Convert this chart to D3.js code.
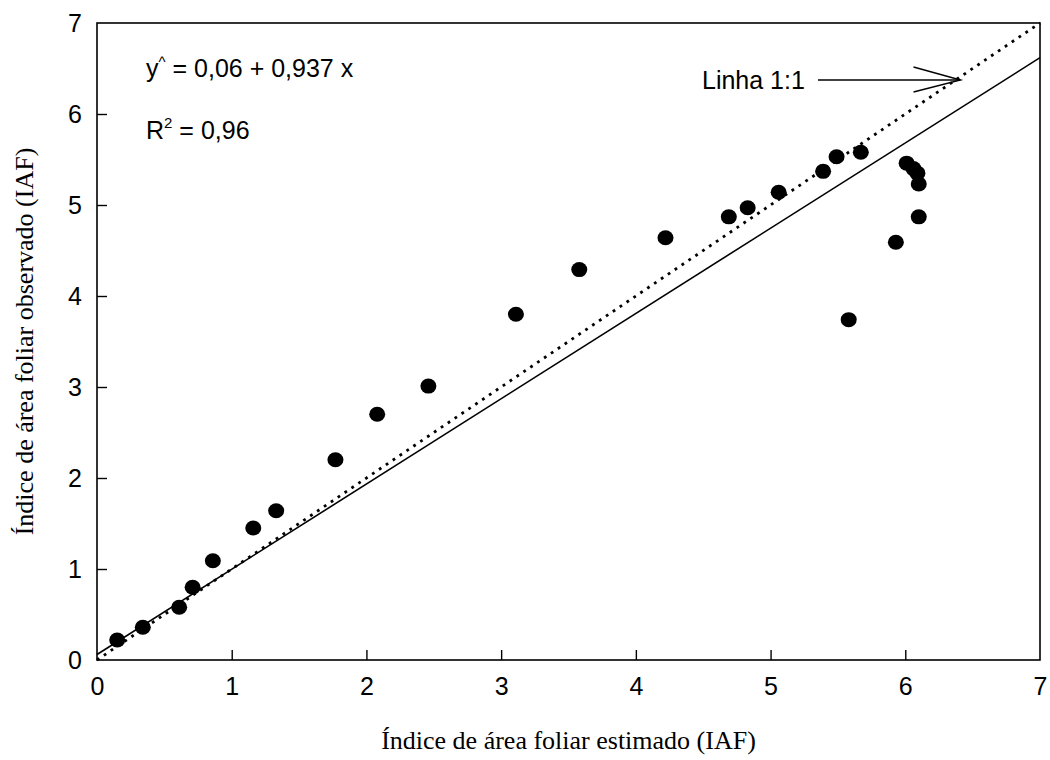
<!DOCTYPE html>
<html>
<head>
<meta charset="utf-8">
<script src="https://cdn.jsdelivr.net/npm/d3@7"></script>
<style>
body { margin: 0; background: #fff; }
</style>
</head>
<body>
<svg id="chart" width="1050" height="760"></svg>
<script>
var width = 1050, height = 760;
var margin = ({top: 23, right: 10, bottom: 100, left: 97});

// estimado (x) vs observado (y)
var estimado = [0.15, 0.34, 0.61, 0.71, 0.86, 1.16, 1.33, 1.77, 2.08, 2.46,
  3.11, 3.58, 4.22, 4.69, 4.83, 5.06, 5.39, 5.49, 5.67, 6.01, 6.06, 6.09,
  6.10, 6.10, 5.93, 5.58];
var observado = [0.22, 0.36, 0.58, 0.80, 1.09, 1.45, 1.64, 2.20, 2.70, 3.01,
  3.80, 4.29, 4.64, 4.87, 4.97, 5.14, 5.37, 5.53, 5.58, 5.46, 5.40, 5.35,
  5.23, 4.87, 4.59, 3.74];
var tickValues = [0, 1, 2, 3, 4, 5, 6, 7];
var intercept = 0.06, slope = 0.937;

var data = estimado.map((d, i) => ({x: d, y: observado[i]}));

var x = d3.scaleLinear().domain([0, 7]).range([margin.left, 1040]);
var y = d3.scaleLinear().domain([0, 7]).range([660, margin.top]);

const svg = d3.select("#chart");
var font = "'Liberation Sans', Arial, sans-serif";
var serif = "'Liberation Serif', 'Times New Roman', serif";

// frame
svg.append("rect")
  .attr("x", x(0)).attr("y", y(7))
  .attr("width", x(7) - x(0)).attr("height", y(0) - y(7))
  .attr("fill", "none").attr("stroke", "#000").attr("stroke-width", 1.6);

// axes with inward ticks
svg.append("g")
  .attr("transform", `translate(0,${y(0)})`)
  .call(d3.axisBottom(x).tickValues(tickValues).tickFormat(d3.format("d"))
    .tickSize(-10).tickPadding(17).tickSizeOuter(0))
  .call(g => g.select(".domain").remove())
  .call(g => g.selectAll(".tick line").attr("stroke-width", 1.4)
    .filter(d => d == 0 || d == 7).remove())
  .call(g => g.selectAll(".tick text").attr("font-family", font).attr("font-size", 25).attr("fill", "#000"));

svg.append("g")
  .attr("transform", `translate(${x(0)},0)`)
  .call(d3.axisLeft(y).tickValues(tickValues).tickFormat(d3.format("d"))
    .tickSize(-10).tickPadding(15).tickSizeOuter(0))
  .call(g => g.select(".domain").remove())
  .call(g => g.selectAll(".tick line").attr("stroke-width", 1.4)
    .filter(d => d == 0 || d == 7).remove())
  .call(g => g.selectAll(".tick text").attr("font-family", font).attr("font-size", 25).attr("fill", "#000"));

// 1:1 line (dotted)
svg.append("line")
  .attr("x1", x(0)).attr("y1", y(0))
  .attr("x2", x(7)).attr("y2", y(7))
  .attr("stroke", "#000").attr("stroke-width", 2.8)
  .attr("stroke-dasharray", "2.8,5.5");

// regression line
var line = d3.line().x(d => x(d)).y(d => y(intercept + slope * d));
svg.append("path")
  .datum([0, 7])
  .attr("d", line)
  .attr("fill", "none").attr("stroke", "#000").attr("stroke-width", 1.6);

// points
svg.append("g")
  .selectAll("ellipse")
  .data(data)
  .join("ellipse")
  .attr("cx", d => x(d.x))
  .attr("cy", d => y(d.y))
  .attr("rx", 8).attr("ry", 7.5)
  .attr("fill", "#000");

// annotation: Linha 1:1 with arrow
var tip = [x(6.41), y(6.41)];
svg.append("text")
  .attr("x", 702).attr("y", 89)
  .attr("font-family", font).attr("font-size", 25)
  .text("Linha 1:1");
svg.append("line")
  .attr("x1", 818).attr("y1", 80).attr("x2", tip[0]).attr("y2", 80)
  .attr("stroke", "#000").attr("stroke-width", 1.4);
svg.append("path")
  .attr("d", `M${tip[0] - 47},67 L${tip[0]},80 L${tip[0] - 47},92`)
  .attr("fill", "none").attr("stroke", "#000").attr("stroke-width", 1.4);

// equation
var eq = svg.append("text")
  .attr("x", 146).attr("y", 77)
  .attr("font-family", font).attr("font-size", 25);
eq.append("tspan").text("y");
eq.append("tspan").attr("dy", -10).attr("font-size", 15).text("^");
eq.append("tspan").attr("dy", 10).text(" = 0,06 + 0,937 x");

var r2 = svg.append("text")
  .attr("x", 146).attr("y", 139)
  .attr("font-family", font).attr("font-size", 25);
r2.append("tspan").text("R");
r2.append("tspan").attr("dy", -11).attr("font-size", 15).text("2");
r2.append("tspan").attr("dy", 11).text(" = 0,96");

// axis titles
svg.append("text")
  .attr("x", (x(0) + x(7)) / 2).attr("y", 749)
  .attr("text-anchor", "middle")
  .attr("font-family", serif).attr("font-size", 26)
  .text("Índice de área foliar estimado (IAF)");

svg.append("text")
  .attr("transform", `translate(33,${(y(0) + y(7)) / 2}) rotate(-90)`)
  .attr("text-anchor", "middle")
  .attr("font-family", serif).attr("font-size", 26)
  .text("Índice de área foliar observado (IAF)");
</script>
</body>
</html>
